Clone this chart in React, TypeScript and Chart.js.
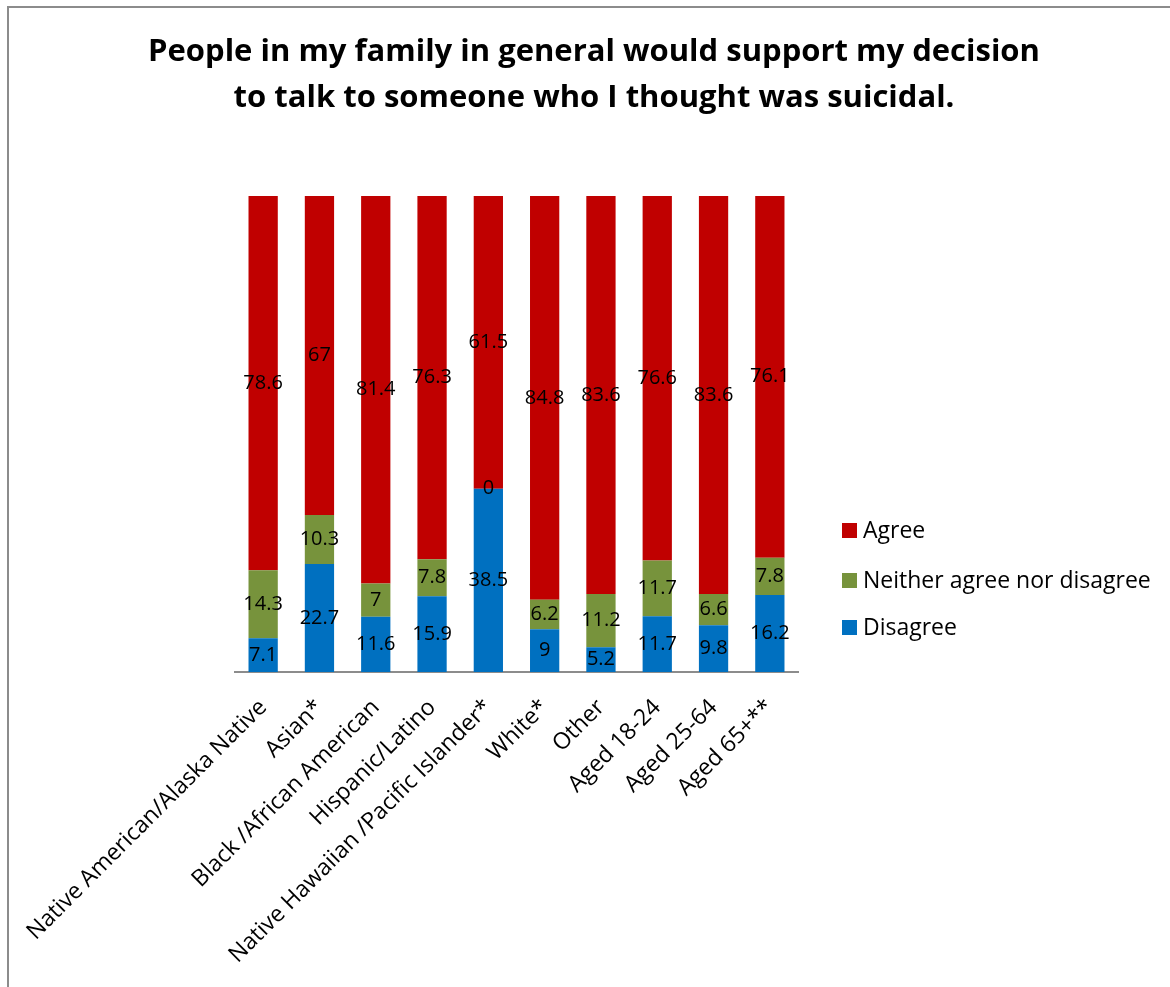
import React, { useEffect, useRef } from "react";
import { Chart, registerables } from "chart.js";

Chart.register(...registerables);

const categories = [
  "Native American/Alaska Native",
  "Asian*",
  "Black /African American",
  "Hispanic/Latino",
  "Native Hawaiian /Pacific Islander*",
  "White*",
  "Other",
  "Aged 18-24",
  "Aged 25-64",
  "Aged 65+**",
];
const disagree = [7.1, 22.7, 11.6, 15.9, 38.5, 9, 5.2, 11.7, 9.8, 16.2];
const neither = [14.3, 10.3, 7, 7.8, 0, 6.2, 11.2, 11.7, 6.6, 7.8];
const agree = [78.6, 67, 81.4, 76.3, 61.5, 84.8, 83.6, 76.6, 83.6, 76.1];

const titleLines = [
  "People in my family in general would support my decision",
  "to talk to someone who I thought was suicidal.",
];

const FONT = "'Open Sans', sans-serif";

const framePlugin = {
  id: "frame",
  beforeDraw(chart: any) {
    const ctx = chart.ctx;
    ctx.save();
    ctx.fillStyle = "#ffffff";
    ctx.fillRect(0, 0, chart.width, chart.height);
    ctx.strokeStyle = "#8c8c8c";
    ctx.lineWidth = 2;
    ctx.strokeRect(8, 7, 1300, 1300);
    ctx.restore();
  },
};

const titlePlugin = {
  id: "customTitle",
  afterDraw(chart: any) {
    const ctx = chart.ctx;
    ctx.save();
    ctx.fillStyle = "#000";
    ctx.font = `bold 31px ${FONT}`;
    ctx.textAlign = "center";
    ctx.textBaseline = "middle";
    ctx.fillText(titleLines[0], 594, 52);
    ctx.fillText(titleLines[1], 594, 98);
    ctx.restore();
  },
};

const valueLabelPlugin = {
  id: "valueLabels",
  afterDatasetsDraw(chart: any) {
    const ctx = chart.ctx;
    ctx.save();
    ctx.fillStyle = "#000";
    ctx.font = `20px ${FONT}`;
    ctx.textAlign = "center";
    ctx.textBaseline = "middle";
    chart.data.datasets.forEach((ds: any, di: number) => {
      const meta = chart.getDatasetMeta(di);
      meta.data.forEach((el: any, i: number) => {
        const v = ds.data[i];
        const y = (el.y + el.base) / 2;
        ctx.fillText(String(v), el.x, y);
      });
    });
    ctx.restore();
  },
};

const legendPlugin = {
  id: "customLegend",
  afterDraw(chart: any) {
    const ctx = chart.ctx;
    const ds = chart.data.datasets.slice().reverse();
    const ys = [530, 580, 627];
    ctx.save();
    ctx.font = `23px ${FONT}`;
    ctx.textAlign = "left";
    ctx.textBaseline = "middle";
    ds.forEach((d: any, i: number) => {
      ctx.fillStyle = d.backgroundColor;
      ctx.fillRect(842, ys[i] - 7, 15, 15);
      ctx.fillStyle = "#000";
      ctx.fillText(d.label, 863, ys[i] + 1);
    });
    ctx.restore();
  },
};

export default function App() {
  const ref = useRef<HTMLCanvasElement>(null);
  useEffect(() => {
    if (!ref.current) return;
    const chart = new Chart(ref.current, {
      type: "bar",
      data: {
        labels: categories,
        datasets: [
          { label: "Disagree", data: disagree, backgroundColor: "#0070C0" },
          { label: "Neither agree nor disagree", data: neither, backgroundColor: "#77933C" },
          { label: "Agree", data: agree, backgroundColor: "#C00000" },
        ],
      },
      options: {
        responsive: false,
        animation: false,
        devicePixelRatio: 1,
        layout: { padding: { top: 196, left: 235, right: 372, bottom: 0 } },
        datasets: { bar: { categoryPercentage: 1, barPercentage: 0.52 } },
        plugins: { legend: { display: false }, title: { display: false }, tooltip: { enabled: false } },
        scales: {
          x: {
            stacked: true,
            grid: { display: false },
            border: { display: true, color: "#8c8c8c", width: 2 },
            ticks: {
              color: "#000",
              font: { family: FONT, size: 23 },
              minRotation: 45,
              maxRotation: 45,
              autoSkip: false,
              padding: 14,
            },
            afterFit: (scale: any) => {
              scale.height = 315;
              scale.paddingLeft = 0;
              scale.paddingRight = 0;
            },
          },
          y: { stacked: true, display: false, min: 0, max: 100 },
        },
      },
      plugins: [framePlugin, valueLabelPlugin, legendPlugin, titlePlugin],
    });
    return () => chart.destroy();
  }, []);
  return (
    <div style={{ position: "absolute", left: 0, top: 0, width: 1170, height: 987 }}>
      <canvas ref={ref} width={1170} height={987} style={{ display: "block" }} />
    </div>
  );
}
